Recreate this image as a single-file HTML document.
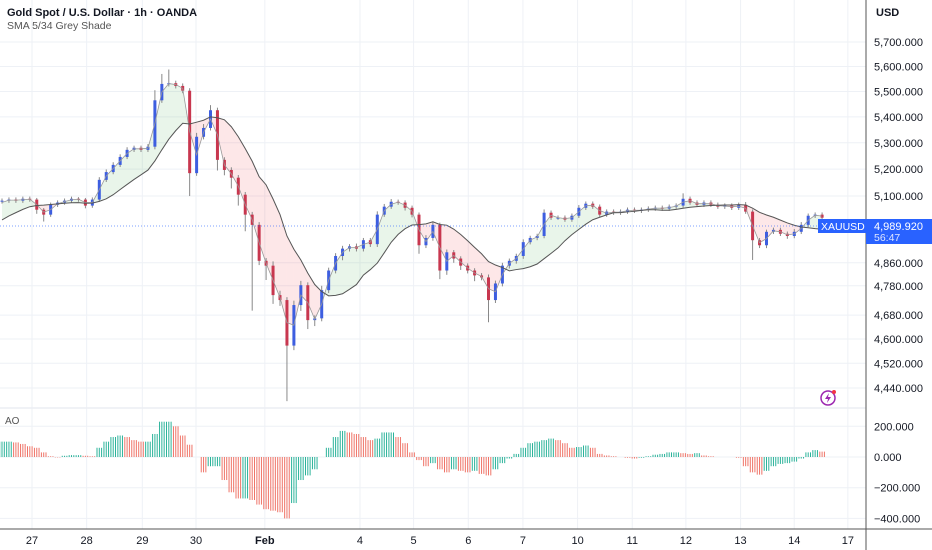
<!DOCTYPE html>
<html><head><meta charset="utf-8">
<style>
html,body{margin:0;padding:0;background:#fff;}
svg{display:block;font-family:"Liberation Sans",sans-serif;}
</style></head>
<body>
<svg id="chart" width="932" height="550" viewBox="0 0 932 550">
  <g id="grid"></g>
  <g id="fill"></g>
  <g id="candles"></g>
  <g id="smas"></g>
  <g id="ao"></g>
  <g id="axes"></g>
  <line x1="0" x2="866" y1="226" y2="226" stroke="#2962ff" stroke-width="1" stroke-dasharray="1 2" opacity="0.6"/>
  <text x="7" y="16" font-size="11" font-weight="bold" fill="#131722">Gold Spot / U.S. Dollar · 1h · OANDA</text>
  <text x="7" y="29" font-size="10.5" fill="#555">SMA 5/34 Grey Shade</text>
  <text x="5" y="424" font-size="10" fill="#555">AO</text>
  <text x="876" y="16" font-size="11" font-weight="bold" fill="#131722">USD</text>
  <rect x="818" y="219" width="48" height="14" fill="#2962ff"/>
  <text x="821" y="230" font-size="10.5" fill="#fff">XAUUSD</text>
  <rect x="866" y="219" width="66" height="25" fill="#2962ff"/>
  <text x="874" y="230" font-size="11" fill="#fff">4,989.920</text>
  <text x="874" y="241" font-size="10.5" fill="#dfe6ff">56:47</text>
  <g>
    <circle cx="828" cy="398" r="7" fill="none" stroke="#9c27b0" stroke-width="1.5"/>
    <path d="M829 393 L825 399 L828 399 L827 403 L831 397 L828 397 Z" fill="#9c27b0"/>
    <circle cx="834" cy="392" r="2" fill="#f23645"/>
  </g>
</svg>
<script>
const closes=[5083,5087,5083,5090,5087,5050,5032,5068,5076,5083,5090,5087,5065,5087,5160,5189,5216,5246,5273,5281,5273,5285,5465,5530,5533,5522,5503,5185,5323,5357,5426,5235,5197,5168,5105,5032,4995,4867,4850,4748,4731,4578,4714,4782,4663,4669,4765,4833,4884,4910,4918,4910,4940,4926,5032,5061,5079,5076,5057,5032,4922,4948,4995,4833,4897,4875,4850,4833,4816,4809,4731,4788,4850,4867,4884,4933,4948,4955,5039,5021,5021,5014,5028,5057,5072,5061,5032,5043,5039,5043,5050,5046,5050,5054,5057,5054,5061,5065,5090,5076,5068,5076,5068,5061,5065,5057,5068,5043,4940,4922,4970,4977,4963,4955,4970,4995,5028,5032,5021];
const hiExt=[8,8,8,8,8,6,6,8,8,8,8,6,6,8,10,10,10,10,10,8,8,10,40,40,55,10,10,10,15,15,20,10,10,10,10,10,10,10,10,15,15,10,15,15,10,10,15,10,10,10,8,10,8,8,12,10,10,8,8,8,8,10,12,8,10,8,8,8,8,8,10,10,10,8,8,10,8,8,12,8,8,8,8,10,8,8,8,8,8,8,8,8,8,8,8,8,8,8,20,8,8,8,8,8,8,8,8,10,8,8,8,8,8,8,10,10,8,8,8];
const loExt=[8,8,8,8,8,15,25,8,8,8,8,8,10,8,8,8,8,8,8,8,8,8,10,10,10,10,10,85,10,10,10,40,20,40,40,60,300,15,50,30,20,180,15,20,30,20,10,10,10,15,10,10,10,10,10,8,8,8,10,10,30,10,10,30,15,15,15,10,20,10,75,10,10,10,10,10,8,8,8,8,8,8,8,8,8,8,8,8,8,8,8,8,8,8,8,8,8,8,8,8,8,8,8,8,8,8,8,8,70,10,10,8,8,10,8,8,8,8,8];
const warmup=[4930,4950,4960,4980,5000,5020,5040,5050,5060,5070];
const aoValues=[100,100,95,85,70,60,30,5,-3,8,12,12,8,5,60,100,130,140,130,110,100,100,150,230,230,200,140,80,0,-100,-60,-60,-150,-230,-270,-270,-280,-310,-340,-350,-360,-400,-300,-150,-120,-80,0,60,130,170,160,150,130,110,120,160,160,130,90,30,-20,-60,-40,-80,-100,-80,-90,-100,-90,-110,-120,-80,-40,-10,20,60,90,100,110,120,110,90,60,65,75,60,20,10,5,0,-5,-10,-5,5,15,20,30,30,25,20,25,10,5,0,0,0,-5,-60,-100,-115,-90,-60,-45,-40,-30,-10,30,45,35];
const priceTicks=[5700,5600,5500,5400,5300,5200,5100,4860,4780,4680,4600,4520,4440];
const aoTicks=[200,0,-200,-400];
const dateLabels=["27","28","29","30","Feb","4","5","6","7","10","11","12","13","14","17"];
const dateHours=[12,66,121,174,242,336,389,443,497,551,605,658,712,765,818];

const NS="http://www.w3.org/2000/svg";
const SP=6.95;
function X(i){return 2+i*SP;}
function XH(h){return 32+(h-12)*(828/818);}
function Y(p){return 42+1385*Math.log(5700/p);}
function AY(v){return 457-v*30.7/200;}
function mk(tag,attrs,parent){const e=document.createElementNS(NS,tag);for(const k in attrs)e.setAttribute(k,attrs[k]);parent.appendChild(e);return e;}

const grid=document.getElementById('grid');
const axes=document.getElementById('axes');
priceTicks.forEach(p=>{
  const y=Y(p);
  const l=mk('line',{x1:0,x2:866,y1:y,y2:y,stroke:'#eef1f6'},grid);
  
  
  const t=mk('text',{x:874,y:y+4,'font-size':11,fill:'#131722'},axes);
  t.textContent=p.toLocaleString('en-US',{minimumFractionDigits:3});
  
  
});
aoTicks.forEach(v=>{
  const y=AY(v);
  const l=mk('line',{x1:0,x2:866,y1:y,y2:y,stroke:'#eef1f6'},grid);
  
  
  const t=mk('text',{x:874,y:y+4,'font-size':11,fill:'#131722'},axes);
  t.textContent=(v<0?'\u2212':'')+Math.abs(v).toFixed(3);
  
  
});
dateLabels.forEach((d,k)=>{
  const x=XH(dateHours[k]);
  const l=mk('line',{x1:x,x2:x,y1:0,y2:529,stroke:'#eef1f6'},grid);
  
  
  const t=mk('text',{x:x,y:544,'font-size':11,fill:'#131722','text-anchor':'middle','font-weight':d==='Feb'?'bold':'normal'},axes);
  t.textContent=d;
  
  
});
const sep1=mk('line',{x1:0,x2:866,y1:408,y2:408,stroke:'#eceef3','stroke-width':1.5},axes);


const xaxis=mk('line',{x1:0,x2:932,y1:529,y2:529,stroke:'#555'},axes);


const yaxis=mk('line',{x1:866,x2:866,y1:0,y2:550,stroke:'#555'},axes);



const cg=document.getElementById('candles');
closes.forEach((c,i)=>{
  const o=i===0?warmup[warmup.length-1]+10:closes[i-1];
  const hi=Math.max(o,c)+hiExt[i], lo=Math.min(o,c)-loExt[i];
  const up=c>=o, col=up?'#3d5ee0':'#c8374f';
  const x=X(i);
  const w=mk('line',{x1:x,x2:x,y1:Y(hi),y2:Y(lo),stroke:'#888','stroke-width':1},cg);
  
  
  const yt=Y(Math.max(o,c)), yb=Y(Math.min(o,c));
  const b=mk('rect',{x:x-1.5,y:yt,width:3,height:Math.max(1,yb-yt),fill:col},cg);
  
  
});

const all=warmup.concat(closes);
function sma(n,idx){let s=0;for(let k=0;k<n;k++)s+=all[idx-k];return s/n;}
const fast=closes.map((c,i)=>sma(2,i+warmup.length));
const slow=closes.map((c,i)=>sma(11,i+warmup.length));
const fg=document.getElementById('fill');
for(let i=0;i<closes.length-1;i++){
  const d=fast[i]+fast[i+1]-slow[i]-slow[i+1];
  const pts=[[X(i),Y(fast[i])],[X(i+1),Y(fast[i+1])],[X(i+1),Y(slow[i+1])],[X(i),Y(slow[i])]].map(p=>p.join(',')).join(' ');
  const pg=mk('polygon',{points:pts,fill:d>0?'rgba(76,175,80,0.12)':'rgba(242,54,69,0.12)'},fg);
  
  
}
const sg=document.getElementById('smas');
const fp=mk('polyline',{points:fast.map((v,i)=>X(i)+','+Y(v)).join(' '),fill:'none',stroke:'#999','stroke-width':0.8},sg);


const spl=mk('polyline',{points:slow.map((v,i)=>X(i)+','+Y(v)).join(' '),fill:'none',stroke:'#555','stroke-width':1},sg);



const ag=document.getElementById('ao');
aoValues.forEach((v,i)=>{
  const prev=i===0?v:aoValues[i-1];
  const col=v>=prev?'#2bb39a':'#ef7468';
  for(let k=-1;k<=1;k++){
    const x=X(i)+k*2.3;
    const bar=mk('line',{x1:x,x2:x,y1:AY(0),y2:AY(v),stroke:col,'stroke-width':1},ag);
    
    
  }
});
</script>
</body></html>
